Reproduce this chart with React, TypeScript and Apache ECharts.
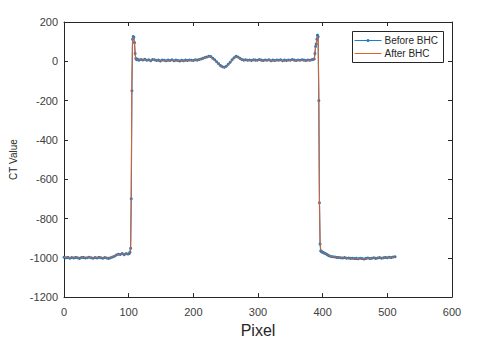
import React, { useEffect, useRef } from "react";
import * as echarts from "echarts";

const pixels = [
  0, 3, 6, 9, 12, 15, 18, 21, 24, 27, 30, 33, 36, 39, 42, 45, 48, 51, 54, 57,
  60, 63, 66, 69, 72, 75, 78, 81, 84, 87, 90, 93, 96, 99, 101, 102, 103, 104, 105, 106,
  107, 108, 109, 110, 111, 112, 113, 114, 116, 119, 122, 125, 128, 131, 134, 137, 140, 143, 146, 149,
  152, 155, 158, 161, 164, 167, 170, 173, 176, 179, 182, 185, 188, 191, 194, 197, 200, 203, 206, 209,
  212, 215, 218, 221, 224, 227, 230, 233, 236, 239, 242, 245, 248, 251, 254, 257, 260, 263, 266, 269,
  272, 275, 278, 281, 284, 287, 290, 293, 296, 299, 302, 305, 308, 311, 314, 317, 320, 323, 326, 329,
  332, 335, 338, 341, 344, 347, 350, 353, 356, 359, 362, 365, 368, 371, 374, 377, 380, 383, 385, 387,
  388, 389, 390, 391, 392, 393, 394, 395, 396, 397, 398, 399, 400, 402, 404, 406, 408, 410, 413, 416,
  419, 422, 425, 428, 431, 434, 437, 440, 443, 446, 449, 452, 455, 458, 461, 464, 467, 470, 473, 476,
  479, 482, 485, 488, 491, 494, 497, 500, 503, 506, 509, 512,
];

const beforeBHC = [
  -997, -1000, -998, -1002, -999, -1001, -998, -1000, -1003, -999, -998, -1001, -1000, -997, -1000, -1002, -999, -1001, -998, -1000,
  -1002, -999, -1001, -1003, -1000, -996, -992, -986, -982, -983, -978, -984, -979, -981, -978, -972, -952, -700, -150, 112,
  126, 122, 95, 40, 14, 10, 8, 10, 6, 9, 7, 10, 5, 8, 3, 9, 8, 4, 6, 2,
  7, 5, 3, 6, 4, 8, 3, 6, 4, 2, 5, 3, 6, 4, 7, 5, 4, 8, 6, 9,
  12, 15, 19, 22, 26, 24, 15, 8, -2, -12, -22, -28, -30, -25, -15, -5, 8, 18, 25, 22,
  15, 9, 6, 8, 5, 7, 4, 8, 6, 5, 9, 6, 4, 7, 5, 8, 3, 6, 4, 7,
  5, 8, 3, 6, 4, 7, 5, 9, 6, 4, 7, 5, 8, 6, 4, 7, 5, 8, 9, 12,
  40, 75, 88, 112, 133, 125, -200, -720, -930, -965, -968, -970, -972, -975, -978, -982, -986, -990, -993, -995,
  -996, -998, -999, -1000, -1001, -999, -1002, -1001, -1003, -1002, -1004, -1003, -1005, -1002, -1004, -1006, -1003, -1001, -1004, -1002,
  -1000, -1003, -1001, -999, -1002, -1000, -998, -1000, -997, -999, -996, -995,
];

const afterBHC = [
  -998, -999, -999, -1001, -1000, -1000, -999, -1001, -1002, -1000, -999, -1000, -1001, -998, -999, -1001, -1000, -1000, -999, -1001,
  -1001, -1000, -1000, -1002, -999, -995, -990, -985, -983, -982, -979, -982, -980, -980, -977, -970, -960, -640, -90, 110,
  122, 118, 90, 36, 12, 9, 7, 9, 7, 8, 6, 9, 6, 7, 4, 8, 7, 5, 5, 3,
  6, 4, 4, 5, 5, 7, 4, 5, 5, 3, 4, 4, 5, 5, 6, 4, 5, 7, 5, 8,
  11, 14, 18, 21, 24, 22, 13, 6, -4, -14, -24, -31, -33, -27, -17, -7, 6, 16, 23, 20,
  14, 8, 5, 7, 6, 6, 5, 7, 5, 6, 8, 5, 5, 6, 4, 7, 4, 5, 5, 6,
  4, 7, 4, 5, 5, 6, 4, 8, 5, 5, 6, 4, 7, 5, 5, 6, 4, 7, 8, 10,
  35, 70, 84, 108, 128, 120, -150, -680, -920, -962, -966, -968, -971, -974, -977, -981, -985, -989, -992, -994,
  -995, -997, -998, -1000, -1000, -1000, -1001, -1002, -1002, -1003, -1003, -1004, -1004, -1003, -1003, -1005, -1004, -1002, -1003, -1001,
  -1001, -1002, -1000, -1000, -1001, -999, -999, -999, -998, -998, -997, -997,
];

const xTicks = { min: 0, max: 600, interval: 100 };
const yTicks = { min: -1200, max: 200, interval: 200 };

const FONT = "'Liberation Sans', Arial, Helvetica, sans-serif";
const BLUE = "#1f7cc2";
const ORANGE = "#E0602A";
const AXIS = "#262626";

export default function App() {
  const ref = useRef<HTMLDivElement>(null);

  useEffect(() => {
    if (!ref.current) return;
    const chart = echarts.init(ref.current, null, { renderer: "svg" });
    const beforeData = pixels.map((p, i) => [p, beforeBHC[i]]);
    const afterData = pixels.map((p, i) => [p, afterBHC[i]]);

    const axisCommon = {
      axisLine: { show: true, onZero: false, lineStyle: { color: AXIS, width: 1 } },
      axisTick: { show: true, inside: true, length: 4, lineStyle: { color: AXIS, width: 1 } },
      splitLine: { show: false },
    };

    chart.setOption({
      animation: false,
      backgroundColor: "#ffffff",
      grid: { left: 61, right: 28, top: 22, bottom: 38, containLabel: false },
      xAxis: [
        {
          type: "value",
          ...xTicks,
          position: "bottom",
          ...axisCommon,
          axisLabel: {
            show: true,
            color: "#404040",
            fontSize: 11,
            fontFamily: FONT,
            margin: 9,
            formatter: (v: number) => String(v),
          },
          name: "Pixel",
          nameLocation: "middle",
          nameGap: 14,
          nameTextStyle: { color: "#262626", fontSize: 16, fontFamily: FONT },
        },
        {
          type: "value",
          ...xTicks,
          position: "top",
          ...axisCommon,
          axisLabel: { show: false },
        },
      ],
      yAxis: [
        {
          type: "value",
          ...yTicks,
          position: "left",
          ...axisCommon,
          axisLabel: {
            show: true,
            color: "#404040",
            fontSize: 11,
            fontFamily: FONT,
            margin: 6,
            formatter: (v: number) => String(v),
          },
          name: "CT Value",
          nameLocation: "middle",
          nameGap: 46,
          nameRotate: 90,
          nameTextStyle: { color: "#262626", fontSize: 10, fontFamily: FONT },
        },
        {
          type: "value",
          ...yTicks,
          position: "right",
          ...axisCommon,
          axisLabel: { show: false },
        },
      ],
      series: [
        {
          name: "Before BHC",
          type: "line",
          xAxisIndex: 0,
          yAxisIndex: 0,
          data: beforeData,
          symbol: "circle",
          symbolSize: 3,
          showSymbol: true,
          itemStyle: { color: BLUE },
          lineStyle: { color: BLUE, width: 1.2 },
          z: 2,
        },
        {
          name: "After BHC",
          type: "line",
          xAxisIndex: 0,
          yAxisIndex: 0,
          data: afterData,
          symbol: "none",
          itemStyle: { color: ORANGE },
          lineStyle: { color: ORANGE, width: 1 },
          z: 3,
        },
      ],
      graphic: [
        {
          type: "group",
          left: 352,
          top: 31,
          z: 100,
          children: [
            {
              type: "rect",
              shape: { x: 0, y: 0, width: 91, height: 31 },
              style: { fill: "#ffffff", stroke: AXIS, lineWidth: 1 },
            },
            {
              type: "line",
              shape: { x1: 2, y1: 9, x2: 29, y2: 9 },
              style: { stroke: BLUE, lineWidth: 1 },
            },
            {
              type: "circle",
              shape: { cx: 15.5, cy: 9, r: 1.5 },
              style: { fill: BLUE },
            },
            {
              type: "line",
              shape: { x1: 2, y1: 22, x2: 29, y2: 22 },
              style: { stroke: ORANGE, lineWidth: 1 },
            },
            {
              type: "text",
              x: 32,
              y: 9,
              style: {
                text: "Before BHC",
                fill: "#262626",
                font: `10px ${FONT}`,
                verticalAlign: "middle",
                align: "left",
              },
            },
            {
              type: "text",
              x: 32,
              y: 22,
              style: {
                text: "After BHC",
                fill: "#262626",
                font: `10px ${FONT}`,
                verticalAlign: "middle",
                align: "left",
              },
            },
          ],
        },
      ],
    });

    return () => chart.dispose();
  }, []);

  return (
    <div
      ref={ref}
      style={{ position: "fixed", left: 0, top: 0, width: 480, height: 343, background: "#fff" }}
    />
  );
}
